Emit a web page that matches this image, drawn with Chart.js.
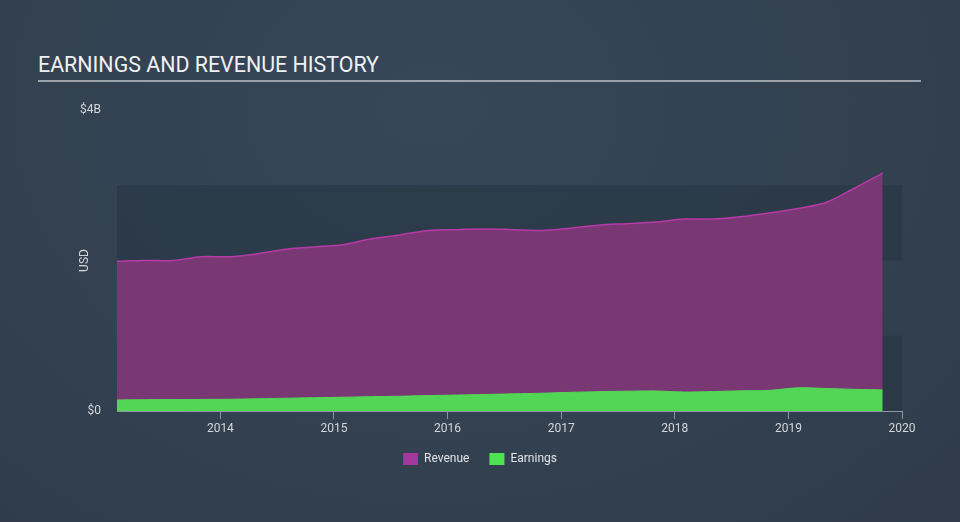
<!DOCTYPE html>
<html>
<head>
<meta charset="utf-8">
<script src="https://cdn.jsdelivr.net/npm/chart.js@4.4.0/dist/chart.umd.min.js"></script>
<style>
    html, body { margin: 0; padding: 0; }
    body {
        width: 960px; height: 522px; overflow: hidden; position: relative;
        background: radial-gradient(ellipse at 45% 20%, #36475a 0%, #334150 55%, #2f3b49 100%);
        font-family: Roboto, "Noto Sans", sans-serif;
    }
    #title {
        position: absolute; left: 38px; top: 52px; width: 883px;
        font-size: 21.4px; color: #f0f1f3; padding-bottom: 3px;
        border-bottom: 2px solid #9ba2aa;
    }
    #chartRevenue { position: absolute; left: 0; top: 0; }
</style>
</head>
<body>
<div id="title">EARNINGS AND REVENUE HISTORY</div>
<canvas id="chartRevenue" width="960" height="522"></canvas>
<script>
// period end as decimal year
let periods = [2013.09, 2013.33, 2013.58, 2013.83, 2014.08, 2014.33, 2014.58, 2014.83,
               2015.08, 2015.33, 2015.58, 2015.83, 2016.08, 2016.33, 2016.58, 2016.83,
               2017.08, 2017.33, 2017.58, 2017.83, 2018.08, 2018.33, 2018.58, 2018.83,
               2019.08, 2019.33, 2019.58, 2019.83];

// USD billions
let revenue = [1.99, 2.00, 2.00, 2.05, 2.05, 2.09, 2.15, 2.18,
               2.21, 2.29, 2.34, 2.40, 2.41, 2.42, 2.41, 2.40,
               2.43, 2.47, 2.49, 2.51, 2.55, 2.55, 2.58, 2.63,
               2.69, 2.77, 2.96, 3.16];

let earnings = [0.147, 0.150, 0.152, 0.154, 0.156, 0.162, 0.170, 0.177,
                0.183, 0.190, 0.196, 0.205, 0.212, 0.220, 0.228, 0.236,
                0.248, 0.257, 0.263, 0.266, 0.252, 0.258, 0.268, 0.274,
                0.308, 0.300, 0.288, 0.280];

let yearTicks = [2014, 2015, 2016, 2017, 2018, 2019, 2020];
let usdTicks = [0, 4];

let xStart = 2013.09, xEnd = 2020;

function toPoints(vals) {
    return vals.map((v, i) => ({ x: periods[i], y: v }));
}

// alternating background bands behind the plot
const bands = {
    id: "bands",
    beforeDraw(chart) {
        let ctx = chart.ctx, a = chart.chartArea, y = chart.scales.y;
        ctx.save();
        ctx.fillStyle = "rgba(38, 52, 66, 0.55)";
        [[0, 1], [2, 3]].forEach(b => {
            let top = y.getPixelForValue(b[1]);
            let bot = y.getPixelForValue(b[0]);
            ctx.fillRect(a.left, top, a.right - a.left, bot - top);
        });
        ctx.restore();
    }
};

new Chart(document.getElementById("chartRevenue"), {
    type: "line",
    data: {
        datasets: [{
            label: "Earnings",
            data: toPoints(earnings),
            borderColor: "#54d957",
            backgroundColor: "#52d655",
            borderWidth: 1,
            fill: "origin",
            pointRadius: 0,
            tension: 0.3
        }, {
            label: "Revenue",
            data: toPoints(revenue),
            borderColor: "#b83aa8",
            backgroundColor: "#793874",
            borderWidth: 1.5,
            fill: "origin",
            pointRadius: 0,
            tension: 0.3
        }]
    },
    options: {
        responsive: false,
        animation: false,
        layout: { padding: { left: 58, right: 58, top: 110, bottom: 47 } },
        plugins: {
            tooltip: { enabled: false },
            legend: {
                position: "bottom",
                labels: {
                    color: "#e2e4e7",
                    font: { family: "Roboto", size: 12 },
                    boxWidth: 15,
                    boxHeight: 12,
                    padding: 20,
                    generateLabels: () => [
                        { text: "Revenue", fillStyle: "#a2379c", strokeStyle: "#a2379c", lineWidth: 0, datasetIndex: 1, fontColor: "#e2e4e7" },
                        { text: "Earnings", fillStyle: "#4ee451", strokeStyle: "#4ee451", lineWidth: 0, datasetIndex: 0, fontColor: "#e2e4e7" }
                    ]
                }
            }
        },
        scales: {
            x: {
                type: "linear",
                min: xStart,
                max: xEnd,
                afterBuildTicks: axis => { axis.ticks = yearTicks.map(v => ({ value: v })); },
                afterFit: axis => { axis.height = 22; },
                ticks: {
                    color: "#d3d7dc",
                    font: { family: "Roboto", size: 12 },
                    padding: 3,
                    maxRotation: 0,
                    callback: v => String(v)
                },
                grid: { drawOnChartArea: false, tickLength: 8, color: "#8e98a4" },
                border: { color: "#8e98a4" }
            },
            y: {
                min: 0,
                max: 4,
                afterBuildTicks: axis => { axis.ticks = usdTicks.map(v => ({ value: v })); },
                afterFit: axis => { axis.width = 59; },
                ticks: {
                    color: "#d3d7dc",
                    font: { family: "Roboto", size: 12 },
                    padding: 16,
                    callback: v => v === 0 ? "$0" : "$" + v + "B"
                },
                grid: { display: false, drawTicks: false },
                border: { display: false },
                title: {
                    display: true,
                    text: "USD",
                    color: "#d3d7dc",
                    font: { family: "Roboto", size: 12 },
                    padding: { top: 20, bottom: 0 }
                }
            }
        }
    },
    plugins: [bands]
});
</script>
</body>
</html>
